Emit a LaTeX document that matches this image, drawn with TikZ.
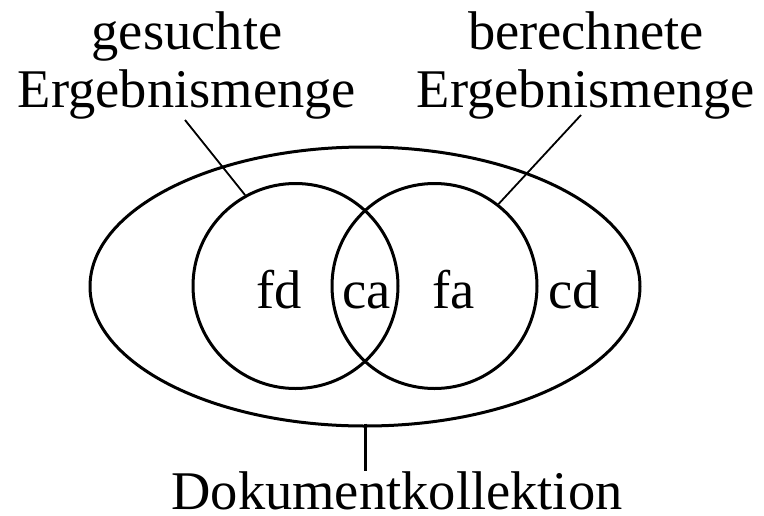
\documentclass[tikz,border=0pt]{standalone}
\usepackage{fontspec}
\setmainfont{Liberation Serif}
\usetikzlibrary{shapes.geometric}

\begin{document}
\begin{tikzpicture}[x=1pt,y=-1pt,
    menge/.style={circle,draw,line width=3pt,minimum size=205pt,inner sep=0pt},
    beschriftung/.style={font=\fontsize{54.5}{58}\selectfont,inner sep=0pt},
    feld/.style={font=\fontsize{54.5}{58}\selectfont,inner sep=0pt,anchor=base},
    zeiger/.style={line width=1.8pt}]
  \useasboundingbox (0,0) rectangle (764,515);

  % Dokumentkollektion (outer ellipse)
  \node[ellipse,draw,line width=3pt,minimum width=550pt,minimum height=279pt,inner sep=0pt]
    (kollektion) at (365,286.5) {};

  % gesuchte and berechnete result sets
  \node[menge] (gesucht) at (295.5,286) {};
  \node[menge] (berechnet) at (434.5,286) {};

  % Labels of the regions
  \node[feld] (fd) at (279.5,308) {fd};
  \node[feld] (ca) at (366.5,308) {ca};
  \node[feld] (fa) at (454,308) {fa};
  \node[feld] (cd) at (574,308) {cd};

  % Descriptions
  \node[beschriftung,align=center] (gesuchtText) at (187,65) {gesuchte\\Ergebnismenge};
  \node[beschriftung,align=center] (berechnetText) at (586,65) {berechnete\\Ergebnismenge};
  \node[beschriftung,anchor=base] (kollektionText) at (397,509) {Dokumentkollektion};

  % Leader lines
  \coordinate (gesuchtFuss) at (185,120);
  \coordinate (berechnetFuss) at (581,115);
  \draw[zeiger] (gesuchtFuss) -- (gesucht.119.4);
  \draw[zeiger] (berechnetFuss) -- (berechnet.52.7);
  \draw[line width=3pt] ([yshift=4pt]kollektion.south) -- (kollektionText.north -| kollektion.south);
\end{tikzpicture}
\end{document}
